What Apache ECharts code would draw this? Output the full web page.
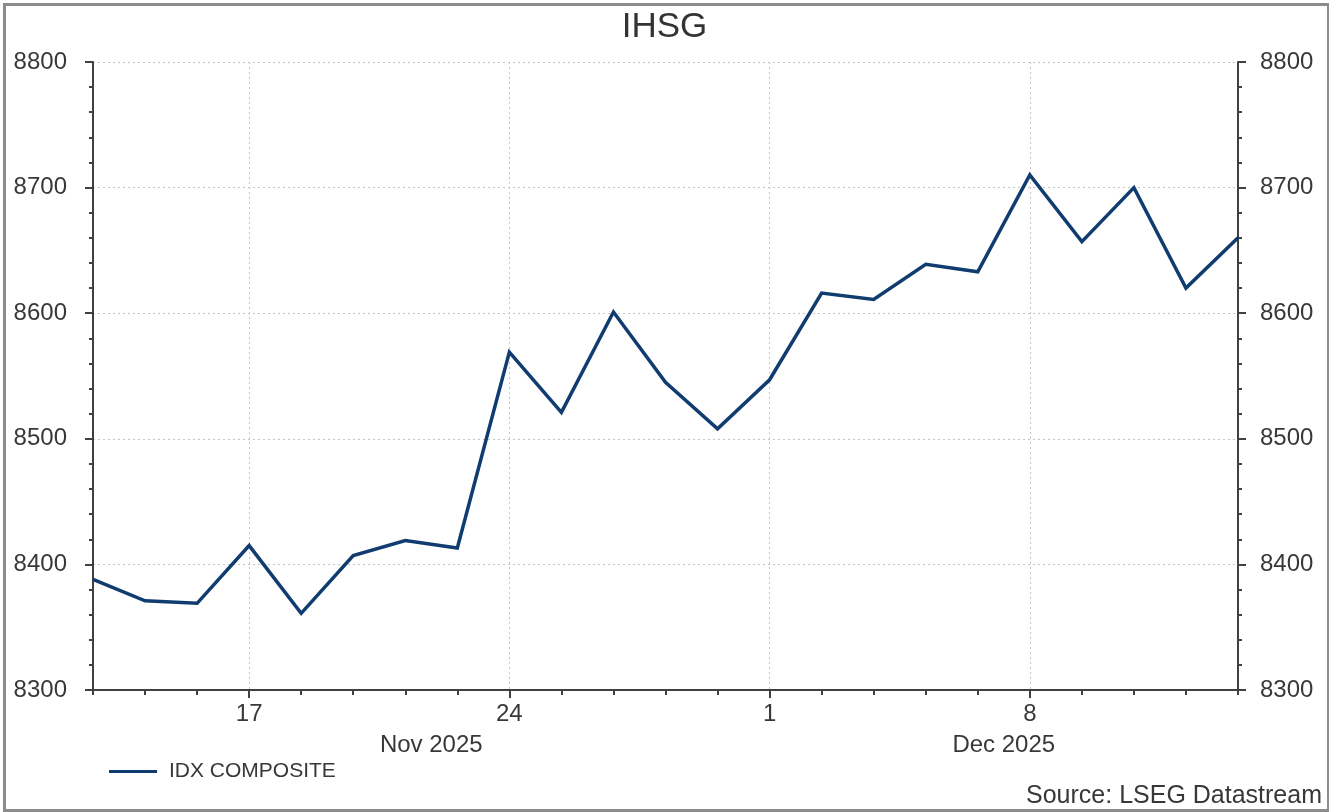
<!DOCTYPE html>
<html>
<head>
<meta charset="utf-8">
<script src="https://cdn.jsdelivr.net/npm/echarts@6/dist/echarts.min.js"></script>
<style>
html,body{margin:0;padding:0;background:#fff;}
#chart{width:1329px;height:812px;}
</style>
</head>
<body>
<div id="chart"></div>
<script>
// ---- data ----
const titleText = 'IHSG';
const seriesName = 'IDX COMPOSITE';
const sourceText = 'Source: LSEG Datastream';
const dates = [
  '2025-11-12','2025-11-13','2025-11-14',
  '2025-11-17','2025-11-18','2025-11-19','2025-11-20','2025-11-21',
  '2025-11-24','2025-11-25','2025-11-26','2025-11-27','2025-11-28',
  '2025-12-01','2025-12-02','2025-12-03','2025-12-04','2025-12-05',
  '2025-12-08','2025-12-09','2025-12-10','2025-12-11','2025-12-12'
];
const values = [
  8388, 8371, 8369,
  8415, 8361, 8407, 8419, 8413,
  8569, 8521, 8601, 8545, 8508,
  8547, 8616, 8611, 8639, 8633,
  8710, 8657, 8700, 8620, 8660
];
const majorTickDates = ['2025-11-17','2025-11-24','2025-12-01','2025-12-08'];
const majorTickLabels = ['17','24','1','8'];
const monthLabels = [
  {text: 'Nov 2025', prefix: '2025-11'},
  {text: 'Dec 2025', prefix: '2025-12'}
];
const yMin = 8300, yMax = 8800, yStep = 100;

// ---- chart ----
const FONT = 'Liberation Sans, Arial, sans-serif';
const AXIS_COLOR = '#404040';
const LABEL_COLOR = '#383838';
const GRID_COLOR = '#c4c4c4';
const LINE_COLOR = '#103c6f';

const isMajor = (idx, val) => majorTickDates.indexOf(val) >= 0;

const chart = echarts.init(document.getElementById('chart'), null, {renderer: 'canvas'});

function yAxis(pos, withGrid, margin) {
  return {
    type: 'value', position: pos, min: yMin, max: yMax, interval: yStep,
    axisLine: {show: true, lineStyle: {color: AXIS_COLOR, width: 2}},
    axisTick: {show: true, length: 8, lineStyle: {color: AXIS_COLOR, width: 2}},
    minorTick: {show: true, splitNumber: 5, length: 4, lineStyle: {color: AXIS_COLOR, width: 2}},
    axisLabel: {color: LABEL_COLOR, fontSize: 24, fontFamily: FONT, margin: margin,
      formatter: (v) => String(v)},
    splitLine: {show: withGrid, lineStyle: {color: GRID_COLOR, type: [2, 3], width: 1}},
    minorSplitLine: {show: false}
  };
}

chart.setOption({
  animation: false,
  backgroundColor: '#ffffff',
  title: {
    text: titleText, left: 'center', top: 5,
    textStyle: {fontSize: 35, fontWeight: 'normal', color: '#333', fontFamily: FONT}
  },
  legend: {
    left: 104, top: 756,
    icon: 'rect', itemWidth: 48, itemHeight: 3,
    data: [seriesName],
    textStyle: {fontSize: 21, color: LABEL_COLOR, fontFamily: FONT, padding: [0, 0, 0, 7]}
  },
  grid: {left: 93, right: 91, top: 62, bottom: 122, containLabel: false},
  xAxis: [
    {
      type: 'category', data: dates, boundaryGap: false, position: 'bottom',
      axisLine: {show: true, lineStyle: {color: AXIS_COLOR, width: 2}},
      axisTick: {show: true, interval: 0, length: 5, lineStyle: {color: AXIS_COLOR, width: 2}},
      axisLabel: {show: false},
      splitLine: {show: false}
    },
    {
      type: 'category', data: dates, boundaryGap: false, position: 'bottom',
      axisLine: {show: false},
      axisTick: {show: true, interval: isMajor, length: 8, lineStyle: {color: AXIS_COLOR, width: 2}},
      axisLabel: {
        show: true, interval: isMajor, margin: 12,
        color: LABEL_COLOR, fontSize: 24, fontFamily: FONT,
        formatter: (val) => majorTickLabels[majorTickDates.indexOf(val)] || ''
      },
      splitLine: {show: true, interval: isMajor, lineStyle: {color: GRID_COLOR, type: [2, 3], width: 1}}
    }
  ],
  yAxis: [yAxis('left', true, 26), yAxis('right', false, 22)],
  series: [{
    name: seriesName, type: 'line', data: values,
    xAxisIndex: 0, yAxisIndex: 0,
    showSymbol: false, symbol: 'none',
    lineStyle: {color: LINE_COLOR, width: 3.5, join: 'miter'},
    itemStyle: {color: LINE_COLOR}
  }]
});

// month labels and decorations positioned through the axis scale
const graphics = [];
monthLabels.forEach((m, i) => {
  const first = dates.findIndex(d => d.startsWith(m.prefix));
  const nextIdx = (i + 1 < monthLabels.length) ? dates.findIndex(d => d.startsWith(monthLabels[i + 1].prefix)) : dates.length - 1;
  const x0 = chart.convertToPixel({xAxisIndex: 0}, first);
  const x1 = chart.convertToPixel({xAxisIndex: 0}, nextIdx);
  const yBase = chart.convertToPixel({yAxisIndex: 0}, yMin);
  graphics.push({
    type: 'text', x: (x0 + x1) / 2, y: yBase + 55,
    style: {text: m.text, fill: LABEL_COLOR, font: '24px ' + FONT, textAlign: 'center', textVerticalAlign: 'middle'}
  });
});
graphics.push({
  type: 'text', right: 7, bottom: 3,
  style: {text: sourceText, fill: LABEL_COLOR, font: '25px ' + FONT}
});
graphics.push({
  type: 'rect', left: 2, top: 2, silent: true,
  shape: {width: 1324, height: 806},
  style: {fill: 'none', stroke: '#8c8c8c', lineWidth: 3}
});
chart.setOption({graphic: graphics});
</script>
</body>
</html>
